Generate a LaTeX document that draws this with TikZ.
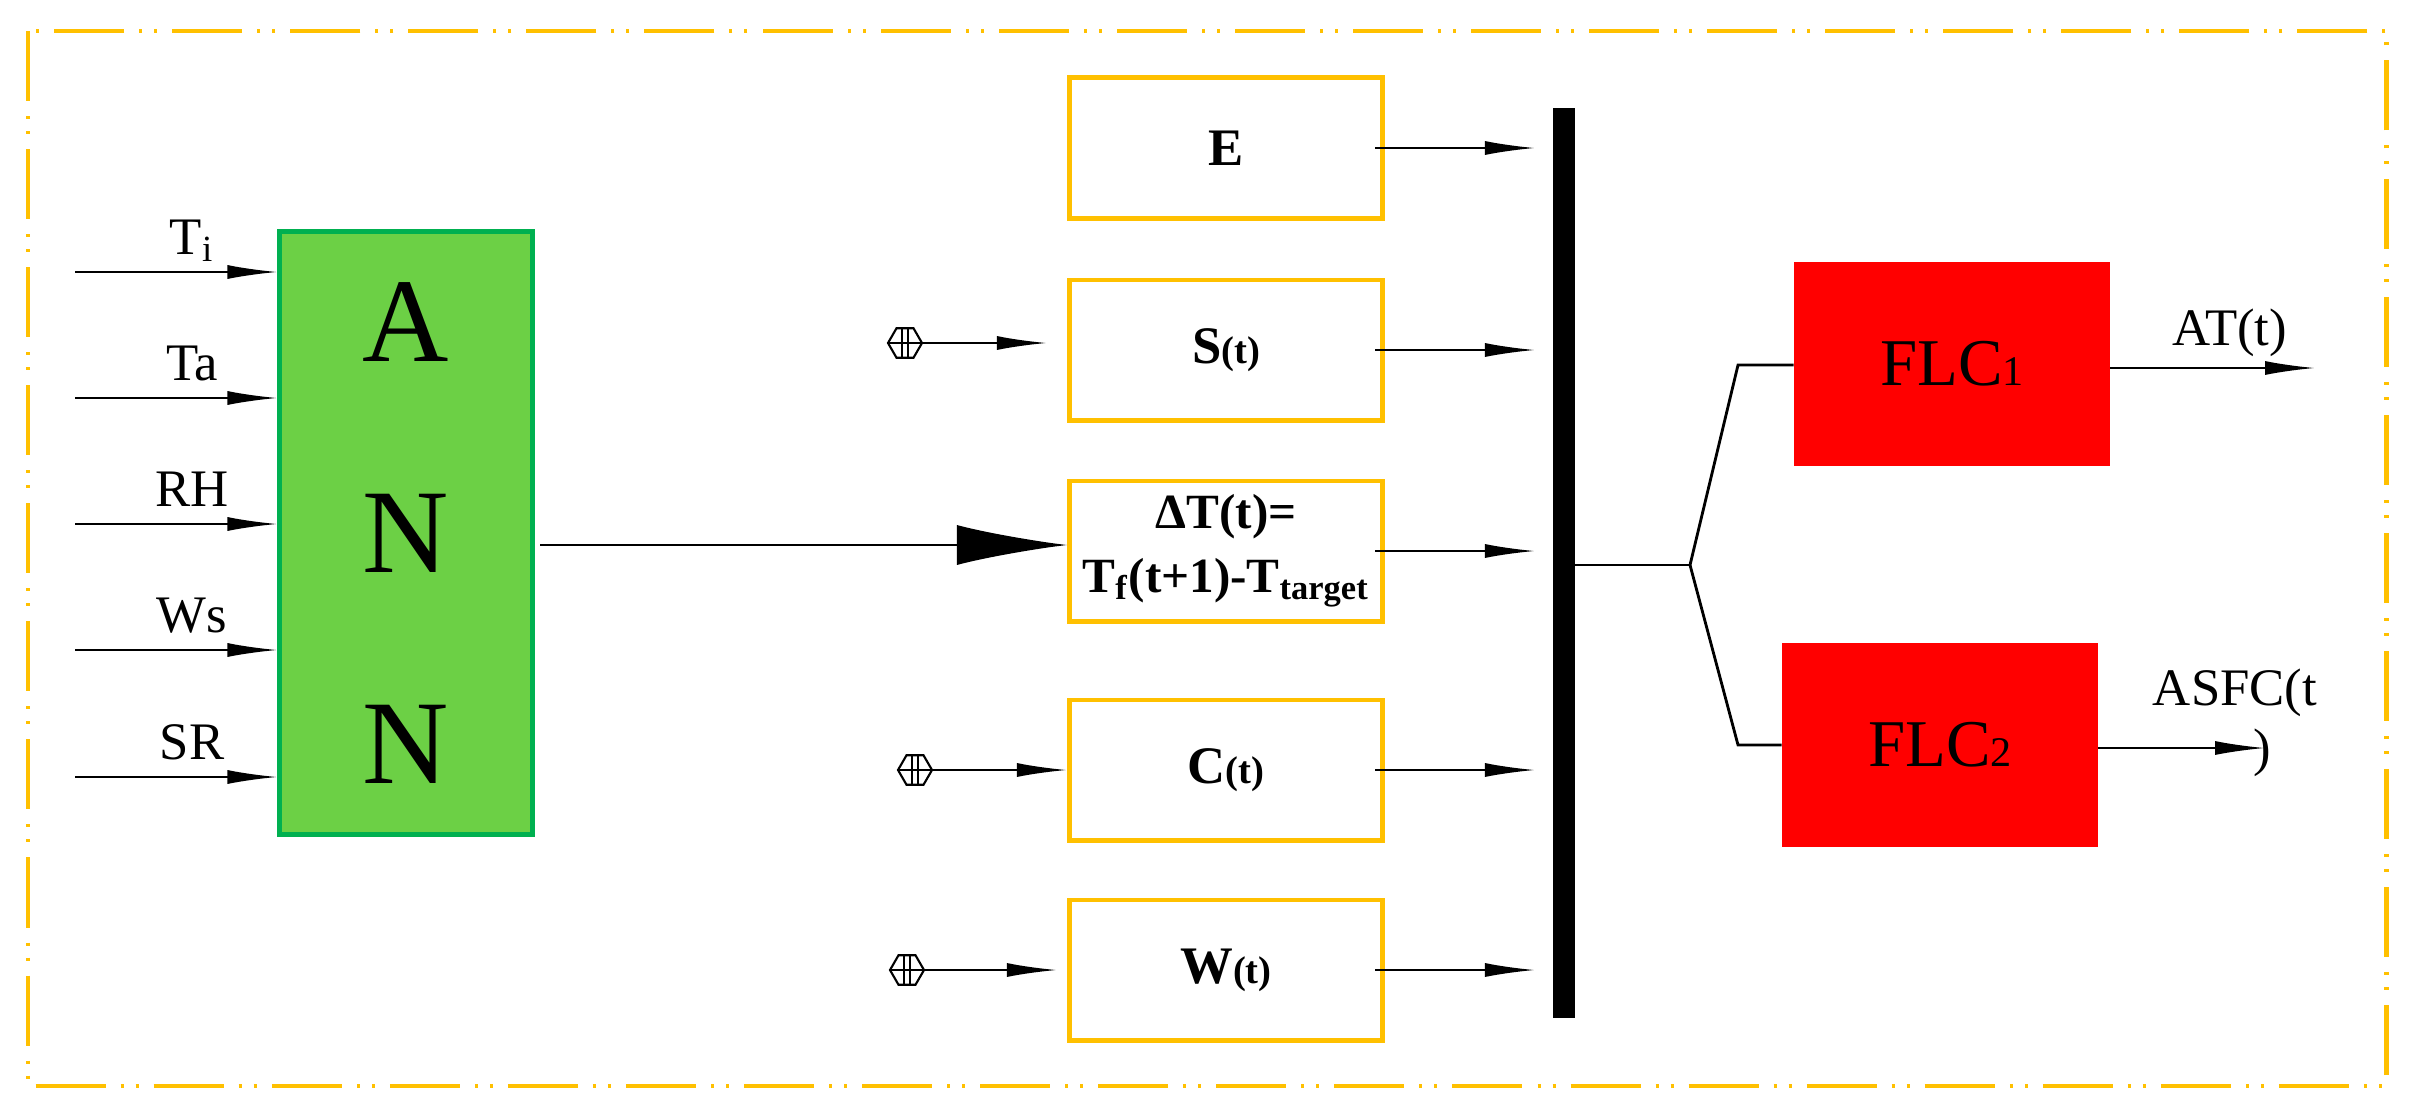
\documentclass[tikz,border=0pt]{standalone}
\usepackage{fontspec}
\setmainfont{Liberation Serif}
\usetikzlibrary{arrows.meta,shapes.geometric}
\definecolor{frameorange}{HTML}{FFC000}
\definecolor{anngreen}{HTML}{6CD045}
\definecolor{annedge}{HTML}{00B050}
\definecolor{flcred}{HTML}{FF0000}
\tikzset{
  sig/.style={-{Latex[length=5mm,width=1.4mm]}, line width=0.6pt},
  varbox/.style={draw=frameorange, line width=1.4pt, minimum width=3.13cm, minimum height=1.4cm, font=\bfseries\fontsize{15}{17}\selectfont, align=center},
  flcbox/.style={fill=flcred, minimum width=3.15cm, minimum height=2.03cm, font=\fontsize{19}{21}\selectfont},
  src/.style={regular polygon, regular polygon sides=6, draw, line width=0.6pt, minimum size=0.34cm, inner sep=0pt},
  lab/.style={font=\fontsize{15}{17}\selectfont, anchor=base}
}
\newcommand{\srcmark}[2]{%
  \node[src] (#1) at #2 {};
  \draw[line width=0.5pt] ([xshift=-0.3mm]#1.north) -- ([xshift=-0.3mm]#1.south)
    ([xshift=0.3mm]#1.north) -- ([xshift=0.3mm]#1.south) (#1.west) -- (#1.east);
}
\begin{document}
\begin{tikzpicture}[x=0.01cm, y=-0.01cm]
\useasboundingbox (0,0) rectangle (2413,1115);
% Frame
    \draw[frameorange, line width=1.4pt, dash pattern=on 7mm off 1.5mm on 0.3mm off 1.2mm on 0.3mm off 1.5mm] (28,31) rectangle (2386,1086);
% ANN block
    \node[fill=anngreen, draw=annedge, line width=1.4pt, minimum width=2.52cm, minimum height=6.03cm, align=center,
      font=\fontsize{34}{60}\selectfont] (ann) at (406,533) {A\\N\\N};
% ANN inputs
    \foreach \nm/\lb/\yy in {ti/T\textsubscript{i}/272, ta/Ta/398, rh/RH/524, ws/Ws/650, sr/SR/777} {
      \coordinate (\nm) at (75,\yy);
      \draw[sig] (\nm) -- (ann.west |- \nm);
      \node[lab] at (192,\yy-18) {\lb};
    }
% Variable boxes
    \node[varbox] (e)  at (1226,148) {E};
    \node[varbox] (s)  at (1226,350) {S\fontsize{11}{13}\selectfont(t)};
    \node[varbox, font=\bfseries\fontsize{14}{18}\selectfont] (dt) at (1226,551) {ΔT(t)=\\T\textsubscript{f}(t+1)-T\textsubscript{target}};
    \node[varbox] (c)  at (1226,770) {C\fontsize{11}{13}\selectfont(t)};
    \node[varbox] (w)  at (1226,970) {W\fontsize{11}{13}\selectfont(t)};
    \coordinate (annout) at (540,545);
    \draw[-{Latex[length=1.1cm,width=4mm]}, line width=0.6pt] (annout) -- (dt.west |- annout);
% External sources
    \srcmark{hs}{(905,343)}
    \srcmark{hc}{(915,770)}
    \srcmark{hw}{(907,970)}
    \draw[sig] (hs.east) -- ([xshift=-2mm]s.west |- hs);
    \draw[sig] (hc.east) -- (c.west |- hc);
    \draw[sig] (hw.east) -- ([xshift=-1mm]w.west |- hw);
% Bus bar
    \fill (1553,108) rectangle (1575,1018);
    \coordinate (busx) at (1535,0);
    \foreach \bx in {e,s,dt,c,w} {
      \draw[sig] ([xshift=-1mm]\bx.east) -- (busx |- \bx.east);
    }
% Fuzzy controllers
    \node[flcbox] (flc1) at (1952,364) {FLC{\fontsize{12}{14}\selectfont 1}};
    \node[flcbox] (flc2) at (1940,745) {FLC{\fontsize{12}{14}\selectfont 2}};
    \coordinate (busout) at (1575,565);
    \coordinate (split) at (1690,565);
    \coordinate (up) at (1738,365);
    \coordinate (down) at (1738,745);
    \draw[line width=0.8pt] (busout) -- (split);
    \draw[line width=0.8pt] (split) -- (up) -- (flc1.west |- up);
    \draw[line width=0.8pt] (split) -- (down) -- (flc2.west |- down);
% Outputs
    \coordinate (at) at (2315,368);
    \coordinate (asfc) at (2265,748);
    \draw[sig] (flc1.east |- at) -- (at);
    \draw[sig] (flc2.east |- asfc) -- (asfc);
    \node[lab] at (2230,345) {AT(t)};
    \node[lab] at (2235,705) {ASFC(t};
    \node[lab] at (2262,765) {)};
\end{tikzpicture}
\end{document}
